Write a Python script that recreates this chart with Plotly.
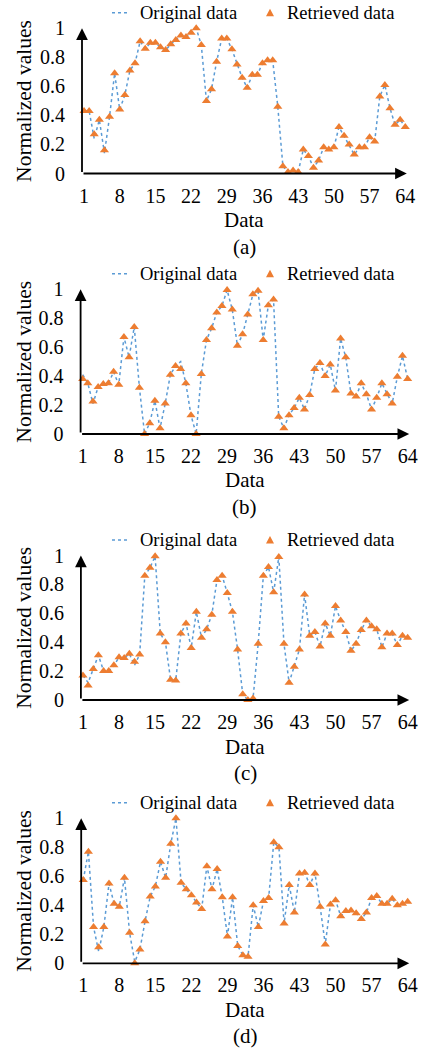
import plotly.graph_objects as go

W, H = 422, 1051

# ---------------- data ----------------
data_index = list(range(1, 65))
x_ticks = [1, 8, 15, 22, 29, 36, 43, 50, 57, 64]
y_ticks = [0, 0.2, 0.4, 0.6, 0.8, 1]
y_tick_labels = ["0", "0.2", "0.4", "0.6", "0.8", "1"]
panel_labels = ["(a)", "(b)", "(c)", "(d)"]
series_names = ["Original data", "Retrieved data"]

retrieved_a = [0.43, 0.43, 0.27, 0.37, 0.16, 0.39, 0.69, 0.44, 0.54, 0.71,
               0.76, 0.91, 0.86, 0.90, 0.90, 0.87, 0.85, 0.89, 0.92, 0.95,
               0.94, 0.97, 1.00, 0.885, 0.50, 0.58, 0.77, 0.93, 0.93, 0.855,
               0.75, 0.66, 0.59, 0.68, 0.68, 0.76, 0.78, 0.78, 0.46, 0.05,
               0.01, 0.02, 0.01, 0.165, 0.12, 0.04, 0.09, 0.18, 0.165, 0.18,
               0.32, 0.26, 0.20, 0.13, 0.18, 0.18, 0.25, 0.22, 0.53, 0.61,
               0.45, 0.335, 0.37, 0.32]
original_a = list(retrieved_a)
original_a[2] = 0.24
original_a[4] = 0.14

retrieved_b = [0.38, 0.35, 0.225, 0.325, 0.345, 0.35, 0.43, 0.34, 0.67, 0.53,
               0.74, 0.32, 0.0, 0.075, 0.23, 0.04, 0.21, 0.41, 0.47, 0.45,
               0.35, 0.13, 0.0, 0.415, 0.65, 0.73, 0.84, 0.885, 0.995, 0.86,
               0.61, 0.69, 0.825, 0.965, 0.99, 0.65, 0.89, 0.93, 0.12, 0.04,
               0.13, 0.18, 0.25, 0.17, 0.27, 0.45, 0.49, 0.40, 0.48, 0.30,
               0.66, 0.53, 0.28, 0.26, 0.35, 0.275, 0.17, 0.25, 0.35, 0.275,
               0.21, 0.395, 0.54, 0.38]
original_b = list(retrieved_b)
original_b[0] = 0.41
original_b[19] = 0.50
original_b[2] = 0.21

retrieved_c = [0.17, 0.10, 0.215, 0.31, 0.20, 0.20, 0.24, 0.295, 0.29, 0.32,
               0.265, 0.315, 0.86, 0.915, 0.995, 0.46, 0.40, 0.14, 0.135, 0.46,
               0.53, 0.36, 0.61, 0.43, 0.49, 0.59, 0.83, 0.86, 0.74, 0.61,
               0.35, 0.04, 0.0, 0.01, 0.39, 0.86, 0.92, 0.745, 0.99, 0.39,
               0.12, 0.23, 0.35, 0.73, 0.445, 0.47, 0.37, 0.53, 0.445, 0.65,
               0.55, 0.47, 0.34, 0.39, 0.485, 0.55, 0.51, 0.49, 0.365, 0.46,
               0.46, 0.38, 0.445, 0.43]
original_c = list(retrieved_c)
original_c[10] = 0.24
original_c[1] = 0.12

retrieved_d = [0.575, 0.77, 0.25, 0.11, 0.25, 0.55, 0.41, 0.39, 0.59, 0.21,
               0.0, 0.095, 0.29, 0.46, 0.53, 0.70, 0.59, 0.825, 1.0, 0.555,
               0.51, 0.47, 0.42, 0.375, 0.67, 0.51, 0.65, 0.455, 0.185, 0.455,
               0.12, 0.055, 0.045, 0.40, 0.25, 0.43, 0.45, 0.835, 0.80, 0.275,
               0.54, 0.35, 0.62, 0.625, 0.54, 0.62, 0.39, 0.13, 0.405, 0.435,
               0.325, 0.36, 0.365, 0.345, 0.305, 0.35, 0.45, 0.465, 0.41, 0.41,
               0.445, 0.40, 0.41, 0.425]
original_d = list(retrieved_d)
original_d[3] = 0.08
original_d[10] = 0.01

originals = [original_a, original_b, original_c, original_d]
retrieveds = [retrieved_a, retrieved_b, retrieved_c, retrieved_d]

# ---------------- styling / layout ----------------
BLUE = "#5B9BD5"
ORANGE = "#ED7D31"
FONT = "Liberation Serif, Times New Roman, Tinos, DejaVu Serif, serif"
X_RANGE = [0.6, 64.3]

# pixel geometry of each plot area: (top, bottom, left, right)
geom = [
    (28.3, 173.5, 82.0, 406.8),
    (289.3, 434.0, 80.6, 409.2),
    (555.5, 700.0, 80.9, 409.2),
    (818.3, 963.3, 81.2, 409.2),
]

def px(xp):
    return xp / W

def py(yp):
    return 1 - yp / H

fig = go.Figure()
layout = dict(
    width=W, height=H, autosize=False,
    margin=dict(l=0, r=0, t=0, b=0, pad=0, autoexpand=False),
    paper_bgcolor="white", plot_bgcolor="white",
    showlegend=False,
    font=dict(family=FONT, size=20, color="black"),
)
annotations = []
shapes = []

for i in range(4):
    top, bot, left, right = geom[i]
    xa = "x" if i == 0 else f"x{i+1}"
    ya = "y" if i == 0 else f"y{i+1}"
    xkey = "xaxis" if i == 0 else f"xaxis{i+1}"
    ykey = "yaxis" if i == 0 else f"yaxis{i+1}"

    fig.add_trace(go.Scatter(
        x=data_index, y=originals[i], mode="lines", name=series_names[0],
        line=dict(color=BLUE, dash="dot", width=1.5),
        xaxis=xa, yaxis=ya, cliponaxis=False))
    fig.add_trace(go.Scatter(
        x=data_index, y=retrieveds[i], mode="markers", name=series_names[1],
        marker=dict(symbol="triangle-up", size=8, color=ORANGE),
        xaxis=xa, yaxis=ya, cliponaxis=False))

    layout[xkey] = dict(
        domain=[px(left), px(right)], range=X_RANGE, anchor=ya,
        tickvals=x_ticks, ticktext=[str(t) for t in x_ticks],
        showgrid=False, zeroline=False, showline=False, ticks="",
        automargin=False,
        ticklabelstandoff=8, tickfont=dict(family=FONT, size=20, color="black"))
    layout[ykey] = dict(
        domain=[py(bot), py(top)], range=[0, 1], anchor=xa,
        tickvals=y_ticks, ticktext=y_tick_labels,
        showgrid=False, zeroline=False, showline=False, ticks="",
        automargin=False,
        ticklabelstandoff=16, tickfont=dict(family=FONT, size=20, color="black"))

    # axis arrows
    annotations.append(dict(
        x=X_RANGE[1], y=0, ax=X_RANGE[0], ay=0, xref=xa, yref=ya,
        axref=xa, ayref=ya, showarrow=True, arrowhead=2, arrowsize=1.3,
        arrowwidth=1.8, arrowcolor="black", text="", standoff=0, startstandoff=0))
    annotations.append(dict(
        x=X_RANGE[0], y=1, ax=X_RANGE[0], ay=0, xref=xa, yref=ya,
        axref=xa, ayref=ya, showarrow=True, arrowhead=2, arrowsize=1.3,
        arrowwidth=1.8, arrowcolor="black", text="", standoff=0, startstandoff=0))

    # y-axis title
    annotations.append(dict(
        x=px(24), y=py((top + bot) / 2), xref="paper", yref="paper",
        text="Normalized values", textangle=-90, showarrow=False,
        xanchor="center", yanchor="middle",
        font=dict(family=FONT, size=21.5, color="black")))
    # x-axis title
    cx = (left + right) / 2
    annotations.append(dict(
        x=px(cx), y=py(bot + 46.5), xref="paper", yref="paper",
        text="Data", showarrow=False, xanchor="center", yanchor="middle",
        font=dict(family=FONT, size=21, color="black")))
    # panel label
    annotations.append(dict(
        x=px(cx), y=py(bot + 73), xref="paper", yref="paper",
        text=panel_labels[i], showarrow=False, xanchor="center", yanchor="middle",
        font=dict(family=FONT, size=21, color="black")))

    # manual legend
    ly = top - 15.5
    shapes.append(dict(
        type="line", xref="paper", yref="paper",
        x0=px(112), x1=px(128), y0=py(ly), y1=py(ly),
        line=dict(color=BLUE, width=1.5, dash="dot")))
    tx, s = 270, 4
    shapes.append(dict(
        type="path", xref="paper", yref="paper",
        path=f"M {px(tx - s)},{py(ly + 3.5)} L {px(tx + s)},{py(ly + 3.5)} L {px(tx)},{py(ly - 4)} Z",
        fillcolor=ORANGE, line=dict(width=0)))
    annotations.append(dict(
        x=px(138), y=py(ly), xref="paper", yref="paper",
        text=series_names[0], showarrow=False, xanchor="left", yanchor="middle",
        font=dict(family=FONT, size=18.5, color="black")))
    annotations.append(dict(
        x=px(285), y=py(ly), xref="paper", yref="paper",
        text=series_names[1], showarrow=False, xanchor="left", yanchor="middle",
        font=dict(family=FONT, size=18.5, color="black")))

layout["annotations"] = annotations
layout["shapes"] = shapes
fig.update_layout(**layout)
fig.write_html(
    "out.html",
    config={"displayModeBar": False, "staticPlot": True},
    post_script="document.body.style.margin='0px';document.body.style.overflow='hidden';",
)
